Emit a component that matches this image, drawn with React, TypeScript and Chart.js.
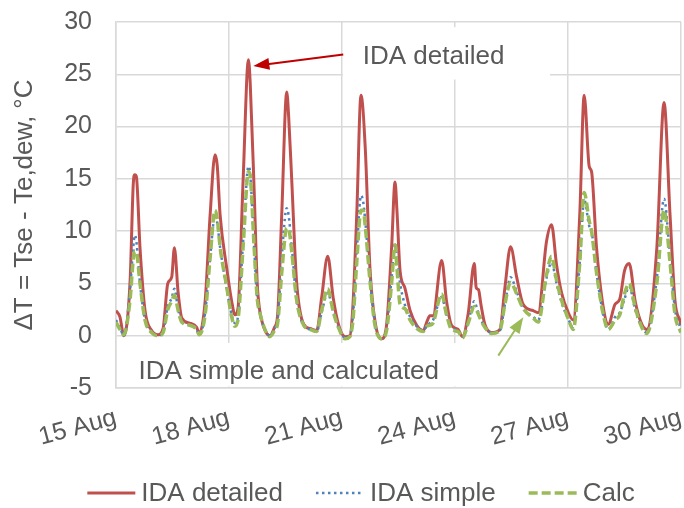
import React, { useEffect, useRef } from 'react';
import { Chart, registerables } from 'chart.js';

Chart.register(...registerables);

// ---- data (hours since 15 Aug 00:00) ----
const tickLabels = ['15 Aug', '18 Aug', '21 Aug', '24 Aug', '27 Aug', '30 Aug'];
const seriesNames = ['IDA detailed', 'IDA simple', 'Calc'];
const yTitle = 'ΔT = Tse - Te,dew, °C';
const noteTop = 'IDA detailed';
const noteBottom = 'IDA simple and calculated';

const detailedHours = [
  0, 2.5, 5, 9, 11, 12, 13, 15.3, 18.5, 22.7,
  26.8, 30, 33, 35.5, 37.2, 39.6, 41.9, 47, 51.4, 53,
  56.8, 60, 63.1, 64.5, 66.3, 70.5, 73.7, 75.8, 77.8, 81,
  84.4, 85.5, 88, 90, 91.5, 93.9, 98, 101, 103, 105.6,
  108.8, 110, 112, 115, 119.6, 123.6, 127.9, 131, 134.9, 138.4,
  141.7, 146, 149, 151, 153.4, 156.1, 158.8, 161.8, 165, 169.3,
  172.4, 175.6, 177.8, 179, 181, 184, 187.4, 191.6, 195.8, 198,
  200, 202, 207.5, 210.6, 213.8, 218, 220.8, 224.4, 228.3, 229.5,
  231, 232.5, 235, 239.3, 244.6, 247.8, 251.4, 255.3, 259.4, 265.8,
  269, 274.3, 277.5, 280.7, 283.9, 288.2, 291.3, 295.5, 298.3, 301.5,
  303, 306.2, 310.5, 313.7, 318, 321, 324, 327, 330.8, 335,
  338.2, 344.6, 349.2, 353, 356.2, 359.4, 360,
];
const detailedValues = [
  2.4, 1.8, 0.0, 5.3, 14.5, 15.4, 15.2, 8.4, 2.4, 0.5,
  0.1, 0.7, 5.0, 5.6, 8.4, 4.1, 1.7, 1.2, 0.8, 0.2,
  3.3, 11.6, 17.3, 16.3, 11.6, 6.5, 3.3, 2.0, 2.7, 14.9,
  26.4, 24.2, 14.0, 5.0, 2.5, 0.9, 0.0, 0.8, 2.0, 11.6,
  23.3, 21.0, 14.8, 5.3, 1.1, 0.7, 0.5, 3.6, 7.6, 3.6,
  1.1, -0.1, 0.0, 3.0, 11.6, 23.0, 18.0, 6.5, 1.4, -0.3,
  1.0, 8.4, 14.7, 12.0, 6.2, 4.6, 2.4, 1.0, 0.5, 1.3,
  1.9, 1.9, 7.2, 3.3, 1.0, 0.6, -0.1, 2.1, 6.9, 4.6,
  4.4, 3.0, 1.1, 0.3, 0.6, 4.6, 8.5, 5.6, 3.0, 2.4,
  2.2, 9.0, 10.6, 6.8, 4.1, 2.2, 1.5, 11.6, 23.0, 16.2,
  15.7, 8.4, 2.7, 1.1, 3.0, 3.5, 6.2, 6.9, 3.3, 1.1,
  0.6, 8.4, 22.3, 11.6, 3.3, 1.4, 1.0,
];

const simpleHours = [
  0, 2.5, 5, 9, 11, 12, 13, 15.3, 18.5, 22.7,
  26.8, 30, 33, 35.5, 37.2, 39.6, 41.9, 47, 51.4, 53,
  56.8, 60, 63.1, 64.5, 66.3, 70.5, 73.7, 75.8, 77.8, 81,
  84.4, 85.5, 88, 90, 91.5, 93.9, 98, 101, 103, 105.6,
  108.8, 110, 112, 115, 119.6, 123.6, 127.9, 131, 134.9, 138.4,
  141.7, 146, 149, 151, 153.4, 156.1, 157.5, 158.8, 161.8, 165,
  169.3, 172.4, 175.6, 177.8, 179, 181, 184, 187.4, 191.6, 195.8,
  198, 200, 202, 207.5, 210.6, 213.8, 218, 220.8, 224.4, 228.3,
  230.2, 232.5, 235, 239.3, 244.6, 247.8, 251.4, 255.3, 259.4, 265.8,
  269, 274.3, 277.5, 280.7, 283.9, 288.2, 291.3, 295.5, 298.3, 301.5,
  303, 306.2, 310.5, 313.7, 318, 321, 324, 327, 330.8, 335,
  338.2, 344.6, 349.2, 353, 356.2, 359.4, 360,
];
const simpleValues = [
  1.5, 0.8, 0.0, 4.5, 8.5, 9.6, 9.0, 5.0, 1.5, 0.4,
  0.0, 0.4, 2.8, 3.6, 4.5, 2.5, 1.4, 1.0, 0.6, 0.1,
  2.2, 7.5, 11.5, 10.8, 8.5, 4.5, 2.0, 1.2, 1.9, 9.0,
  16.2, 15.5, 8.5, 3.5, 2.3, 1.0, 0.0, 0.7, 1.5, 7.5,
  12.2, 11.5, 8.5, 3.5, 1.0, 0.6, 0.4, 2.2, 4.1, 2.3,
  0.8, -0.2, 0.0, 2.0, 8.0, 13.4, 12.8, 11.0, 5.5, 1.2,
  -0.3, 0.8, 5.5, 8.9, 7.5, 5.0, 3.0, 1.8, 0.9, 0.5,
  0.9, 1.2, 1.5, 3.7, 2.0, 0.8, 0.5, -0.1, 1.3, 3.3,
  2.5, 1.6, 0.8, 0.3, 0.5, 3.0, 5.6, 4.2, 2.7, 1.8,
  1.5, 5.5, 7.0, 5.0, 3.2, 1.6, 0.8, 7.0, 13.0, 10.5,
  10.0, 6.0, 2.0, 0.6, 1.8, 2.2, 3.5, 4.7, 2.5, 0.8,
  0.3, 5.5, 13.1, 7.5, 2.5, 0.9, 0.8,
];
const calcValues = [
  1.3, 0.6, 0.1, 3.5, 7.3, 8.1, 8.0, 5.0, 1.5, 0.3,
  0.0, 0.3, 2.5, 3.3, 3.9, 2.4, 1.3, 1.0, 0.6, 0.1,
  2.0, 7.5, 12.0, 11.2, 8.5, 4.7, 1.8, 0.9, 1.6, 8.5,
  15.7, 15.3, 8.5, 3.5, 2.3, 1.0, -0.1, 0.5, 1.2, 6.0,
  10.3, 10.2, 8.0, 3.5, 1.0, 0.6, 0.4, 2.4, 4.5, 2.3,
  0.8, -0.3, -0.1, 1.5, 7.0, 12.0, 12.0, 10.5, 5.3, 1.0,
  -0.3, 0.5, 5.0, 8.7, 6.5, 3.0, 2.6, 1.5, 0.7, 0.4,
  0.9, 1.0, 1.2, 4.0, 2.0, 0.6, 0.4, -0.2, 1.2, 2.8,
  2.3, 1.5, 0.8, 0.2, 0.5, 3.0, 5.1, 4.0, 2.6, 1.7,
  1.3, 5.8, 7.6, 5.3, 3.4, 1.6, 0.6, 7.0, 13.7, 11.0,
  10.0, 6.0, 2.0, 0.6, 1.5, 2.0, 4.0, 5.0, 2.7, 0.8,
  0.2, 5.0, 12.0, 7.0, 2.0, 0.5, 0.3,
];

// annotation anchors in data units (hours, °C)
const redArrow = { from: [144.8, 26.9], to: [87.5, 25.8] };
const greenArrow = { from: [243.6, -1.9], to: [259.5, 1.76] };

const COLORS = { red: '#C0504D', blue: '#4F81BD', green: '#9BBB59' };
const TEXT = '#595959';
const GRID = '#D9D9D9';
const FONT = '"Liberation Sans", Arial, Helvetica, sans-serif';

const styles = [
  { color: COLORS.red, width: 3, dash: [] as number[] },
  { color: COLORS.blue, width: 2.5, dash: [2.5, 3.5] },
  { color: COLORS.green, width: 3.5, dash: [9, 4] },
];

function drawArrow(ctx: CanvasRenderingContext2D, x1: number, y1: number, x2: number, y2: number, color: string) {
  const dx = x2 - x1, dy = y2 - y1;
  const len = Math.hypot(dx, dy);
  const ux = dx / len, uy = dy / len;
  const head = 16, half = 6;
  const bx = x2 - ux * head, by = y2 - uy * head;
  ctx.save();
  ctx.strokeStyle = color;
  ctx.fillStyle = color;
  ctx.lineWidth = 2;
  ctx.setLineDash([]);
  ctx.beginPath();
  ctx.moveTo(x1, y1);
  ctx.lineTo(bx + ux * 2, by + uy * 2);
  ctx.stroke();
  ctx.beginPath();
  ctx.moveTo(x2, y2);
  ctx.lineTo(bx - uy * half, by + ux * half);
  ctx.lineTo(bx + uy * half, by - ux * half);
  ctx.closePath();
  ctx.fill();
  ctx.restore();
}

const annotationPlugin = {
  id: 'annotations',
  beforeDatasetsDraw(chart: any) {
    const { ctx, scales: { x, y } } = chart;
    ctx.save();
    ctx.fillStyle = '#ffffff';
    // white label boxes hiding grid lines
    const t1 = x.getPixelForValue(144.6), t2 = x.getPixelForValue(276.5);
    ctx.fillRect(t1, y.getPixelForValue(29.5), t2 - t1, y.getPixelForValue(24.5) - y.getPixelForValue(29.5));
    const b1 = x.getPixelForValue(2.5), b2 = x.getPixelForValue(283);
    const bt = y.getPixelForValue(-0.7);
    ctx.fillRect(b1, bt, b2 - b1, y.getPixelForValue(-5) - 1.5 - bt);
    ctx.restore();
  },
  afterDatasetsDraw(chart: any) {
    const { ctx, scales: { x, y } } = chart;
    drawArrow(ctx, x.getPixelForValue(redArrow.from[0]), y.getPixelForValue(redArrow.from[1]),
      x.getPixelForValue(redArrow.to[0]), y.getPixelForValue(redArrow.to[1]), '#C00000');
    drawArrow(ctx, x.getPixelForValue(greenArrow.from[0]), y.getPixelForValue(greenArrow.from[1]),
      x.getPixelForValue(greenArrow.to[0]), y.getPixelForValue(greenArrow.to[1]), COLORS.green);
    ctx.save();
    ctx.fillStyle = TEXT;
    ctx.font = `26px ${FONT}`;
    ctx.textAlign = 'left';
    ctx.textBaseline = 'alphabetic';
    ctx.fillText(noteTop, x.getPixelForValue(157.2), y.getPixelForValue(26.0));
    ctx.fillText(noteBottom, x.getPixelForValue(14.3), y.getPixelForValue(-4.1));
    ctx.restore();
  },
  afterDraw(chart: any) {
    const { ctx } = chart;
    ctx.save();
    ctx.font = `26px ${FONT}`;
    const lineLen = 48, gap = 6, sep = 33;
    const widths = seriesNames.map((n) => ctx.measureText(n).width);
    const total = widths.reduce((a, w) => a + lineLen + gap + w, 0) + sep * (seriesNames.length - 1);
    let cx = 361 - total / 2;
    const cy = 493;
    seriesNames.forEach((name, i) => {
      const s = styles[i];
      ctx.strokeStyle = s.color;
      ctx.lineWidth = s.width;
      ctx.setLineDash(s.dash);
      ctx.beginPath();
      ctx.moveTo(cx, cy);
      ctx.lineTo(cx + lineLen, cy);
      ctx.stroke();
      ctx.setLineDash([]);
      ctx.fillStyle = TEXT;
      ctx.textBaseline = 'middle';
      ctx.textAlign = 'left';
      ctx.fillText(name, cx + lineLen + gap, cy + 1);
      cx += lineLen + gap + widths[i] + sep;
    });
    ctx.restore();
  },
};

export default function App() {
  const ref = useRef<HTMLCanvasElement>(null);

  useEffect(() => {
    if (!ref.current) return;
    const mk = (hours: number[], vals: number[]) => hours.map((h, i) => ({ x: h, y: vals[i] }));
    const chart = new Chart(ref.current, {
      type: 'line',
      data: {
        datasets: [
          {
            label: seriesNames[0],
            data: mk(detailedHours, detailedValues),
            borderColor: COLORS.red,
            borderWidth: 3,
            pointRadius: 0,
            cubicInterpolationMode: 'monotone',
            order: 2,
          },
          {
            label: seriesNames[1],
            data: mk(simpleHours, simpleValues),
            borderColor: COLORS.blue,
            borderWidth: 2.5,
            borderDash: [2.5, 3.5],
            pointRadius: 0,
            cubicInterpolationMode: 'monotone',
            order: 1,
          },
          {
            label: seriesNames[2],
            data: mk(simpleHours, calcValues),
            borderColor: COLORS.green,
            borderWidth: 3.5,
            borderDash: [9, 4],
            pointRadius: 0,
            cubicInterpolationMode: 'monotone',
            order: 0,
          },
        ],
      },
      options: {
        responsive: false,
        animation: false,
        devicePixelRatio: 1,
        layout: { padding: { left: 0, right: 3, top: 22, bottom: 40 } },
        plugins: { legend: { display: false }, tooltip: { enabled: false } },
        scales: {
          x: {
            type: 'linear',
            min: 0,
            max: 360,
            afterFit: (s: any) => {
              s.height = 80;
              s.paddingLeft = 0;
              s.paddingRight = 0;
            },
            ticks: {
              stepSize: 72,
              autoSkip: false,
              minRotation: 15,
              maxRotation: 15,
              padding: 15,
              color: TEXT,
              font: { size: 25, family: FONT },
              callback: (v: any) => tickLabels[Math.round(Number(v) / 72)] ?? '',
            },
            grid: { color: GRID, lineWidth: 1.5, drawTicks: false },
            border: { color: GRID, width: 1.5 },
          },
          y: {
            min: -5,
            max: 30,
            afterFit: (s: any) => {
              s.width = 116;
              s.paddingTop = 0;
              s.paddingBottom = 0;
            },
            ticks: {
              stepSize: 5,
              padding: 24,
              color: TEXT,
              font: { size: 25, family: FONT },
            },
            grid: { color: GRID, lineWidth: 1.5, drawTicks: false },
            border: { color: GRID, width: 1.5 },
            title: {
              display: true,
              text: yTitle,
              color: TEXT,
              font: { size: 26, family: FONT },
              padding: { top: 9, bottom: 0 },
            },
          },
        },
      },
      plugins: [annotationPlugin],
    });
    return () => chart.destroy();
  }, []);

  return (
    <div style={{ position: 'fixed', left: 0, top: 0, width: 684, height: 508, background: '#fff' }}>
      <canvas ref={ref} width={684} height={508} style={{ width: 684, height: 508, display: 'block' }} />
    </div>
  );
}
